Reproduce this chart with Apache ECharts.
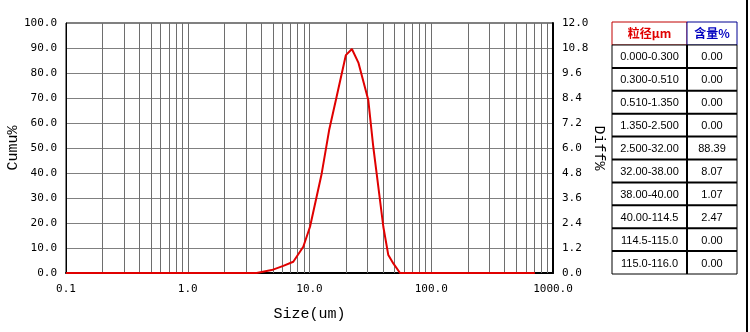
<!DOCTYPE html>
<html>
<head>
<meta charset="utf-8">
<script src="https://cdn.jsdelivr.net/npm/echarts@6/dist/echarts.min.js"></script>
<style>
html, body { margin: 0; padding: 0; background: #fff; }
#chart { width: 750px; height: 332px; }
</style>
</head>
<body>
<div id="chart"></div>
<script>
// 粒径 (um) 与 微分含量 Diff%
var sizes = [0.1, 3.68, 4.89, 6.09, 7.36, 8.89, 10.1, 12.6, 14.5, 16.7, 19.9, 22.3, 25.2, 30.4, 33.4, 35.6, 40.4, 44.4, 48.8, 55.4, 710];
var diffValues = [0, 0, 0.14, 0.34, 0.54, 1.26, 2.22, 4.78, 6.86, 8.46, 10.46, 10.75, 10.1, 8.3, 6.06, 4.78, 2.22, 0.86, 0.46, 0, 0];
// 对数坐标竖网格
var gridSizes = [0.2, 0.3, 0.4, 0.5, 0.6, 0.7, 0.8, 0.9, 1, 2, 3, 4, 5, 6, 7, 8, 9, 10, 20, 30, 40, 50, 60, 70, 80, 90, 100, 200, 300, 400, 500, 600, 700, 800, 900];
var xTickLabels = { 0.1: "0.1", 1: "1.0", 10: "10.0", 100: "100.0", 1000: "1000.0" };
// 右侧表格
var tableHeader = ["粒径μm", "含量%"];
var sizeRanges = ["0.000-0.300", "0.300-0.510", "0.510-1.350", "1.350-2.500", "2.500-32.00", "32.00-38.00", "38.00-40.00", "40.00-114.5", "114.5-115.0", "115.0-116.0"];
var contents = ["0.00", "0.00", "0.00", "0.00", "88.39", "8.07", "1.07", "2.47", "0.00", "0.00"];

var myChart = echarts.init(document.getElementById("chart"));

var tickFont = "DejaVu Sans Mono";
var titleFont = "Liberation Mono";

// 表格图形
var tblX = [612, 687, 737];
var tblTop = 22, headH = 23, rowH = 22.9;
var graphics = [];
graphics.push({
    type: "rect", shape: { x: tblX[0], y: tblTop, width: tblX[1] - tblX[0], height: headH },
    style: { fill: "#fff", stroke: "#c00000", lineWidth: 1 }
});
graphics.push({
    type: "rect", shape: { x: tblX[1], y: tblTop, width: tblX[2] - tblX[1], height: headH },
    style: { fill: "#fff", stroke: "#000090", lineWidth: 1 }
});
graphics.push({
    type: "text", x: (tblX[0] + tblX[1]) / 2, y: tblTop + headH / 2,
    style: { text: tableHeader[0], fill: "#e00000", font: "bold 12px 'Noto Sans CJK SC'", align: "center", verticalAlign: "middle" }
});
graphics.push({
    type: "text", x: (tblX[1] + tblX[2]) / 2, y: tblTop + headH / 2,
    style: { text: tableHeader[1], fill: "#0000c0", font: "bold 12px 'Noto Sans CJK SC'", align: "center", verticalAlign: "middle" }
});
var bodyTop = tblTop + headH;
var bodyH = rowH * sizeRanges.length;
graphics.push({
    type: "rect", shape: { x: tblX[0], y: bodyTop, width: tblX[2] - tblX[0], height: bodyH },
    style: { fill: "#fff", stroke: "#000", lineWidth: 1 }
});
graphics.push({
    type: "line", shape: { x1: tblX[1], y1: bodyTop, x2: tblX[1], y2: bodyTop + bodyH },
    style: { stroke: "#000", lineWidth: 2 }
});
sizeRanges.forEach(function(s, i) {
    var y = bodyTop + rowH * i;
    if (i > 0) {
        graphics.push({
            type: "line", shape: { x1: tblX[0], y1: y, x2: tblX[2], y2: y },
            style: { stroke: "#000", lineWidth: 2 }
        });
    }
    graphics.push({
        type: "text", x: (tblX[0] + tblX[1]) / 2, y: y + rowH / 2 + 1,
        style: { text: s, fill: "#000", font: "11px 'Liberation Sans'", align: "center", verticalAlign: "middle" }
    });
    graphics.push({
        type: "text", x: (tblX[1] + tblX[2]) / 2, y: y + rowH / 2 + 1,
        style: { text: contents[i], fill: "#000", font: "11px 'Liberation Sans'", align: "center", verticalAlign: "middle" }
    });
});
// 图片右侧边框
graphics.push({
    type: "line", shape: { x1: 747, y1: 0, x2: 747, y2: 332 },
    style: { stroke: "#000", lineWidth: 2 }
});

var option = {
    animation: false,
    backgroundColor: "#fff",
    grid: {
        left: 66, right: 197, top: 23, bottom: 59,
        outerBoundsMode: "none",
        containLabel: false,
        show: true, borderColor: "#000", borderWidth: 1
    },
    xAxis: {
        type: "log", logBase: 10, min: 0.1, max: 1000,
        name: "Size(um)", nameLocation: "middle", nameGap: 34,
        nameMoveOverlap: false,
        nameTextStyle: { fontFamily: titleFont, fontSize: 15, color: "#000" },
        axisLine: { show: true, lineStyle: { color: "#000", width: 2 } },
        axisTick: { show: false },
        splitLine: { show: false },
        axisLabel: {
            color: "#000", fontFamily: tickFont, fontSize: 11, margin: 11,
            formatter: function(v) { return xTickLabels[v] || ""; }
        }
    },
    yAxis: [{
        type: "value", min: 0, max: 100, interval: 10,
        name: "Cumu%", nameLocation: "middle", nameGap: 45,
        nameMoveOverlap: false,
        nameTextStyle: { fontFamily: titleFont, fontSize: 15, color: "#000" },
        axisLine: { show: true, lineStyle: { color: "#000", width: 1 } },
        axisTick: { show: false },
        splitLine: { show: true, lineStyle: { color: "#808080", width: 1 } },
        axisLabel: {
            color: "#000", fontFamily: tickFont, fontSize: 11, margin: 9,
            formatter: function(v) { return v.toFixed(1); }
        }
    }, {
        type: "value", min: 0, max: 12, interval: 1.2, position: "right",
        name: "Diff%", nameLocation: "middle", nameGap: 38, nameRotate: -90,
        nameMoveOverlap: false,
        nameTextStyle: { fontFamily: titleFont, fontSize: 15, color: "#000" },
        axisLine: { show: true, lineStyle: { color: "#000", width: 2 } },
        axisTick: { show: false },
        splitLine: { show: false },
        axisLabel: {
            color: "#000", fontFamily: tickFont, fontSize: 11, margin: 9,
            formatter: function(v) { return v.toFixed(1); }
        }
    }],
    series: [{
        name: "grid",
        type: "line",
        data: [],
        z: 1,
        silent: true,
        markLine: {
            silent: true,
            symbol: ["none", "none"],
            label: { show: false },
            lineStyle: { color: "#6e6e6e", type: "solid", width: 1 },
            data: gridSizes.map(function(g) { return { xAxis: g }; })
        }
    }, {
        name: "Diff%",
        type: "line",
        yAxisIndex: 1,
        z: 5,
        showSymbol: false,
        data: sizes.map(function(s, i) { return [s, diffValues[i]]; }),
        lineStyle: { color: "#e00000", width: 2 },
        itemStyle: { color: "#e00000" }
    }],
    graphic: graphics
};
myChart.setOption(option);
</script>
</body>
</html>
